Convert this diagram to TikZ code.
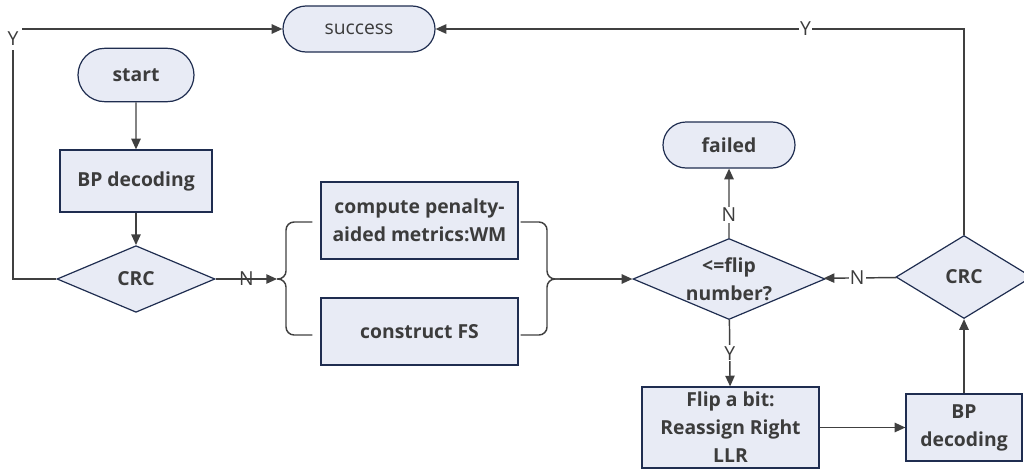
\documentclass[tikz,border=0pt]{standalone}
\usepackage{fontspec}
\setmainfont{Open Sans}
\usetikzlibrary{positioning, shapes, arrows, calc}
\definecolor{fcFill}{HTML}{E8EBF5}
\definecolor{fcEdge}{HTML}{1F2D50}
\definecolor{fcText}{HTML}{3C3C3C}
\definecolor{fcLine}{HTML}{404040}
\usetikzlibrary{arrows.meta}

\begin{document}
\begin{tikzpicture}[
  x=0.75pt, y=-0.75pt,
  box/.style={draw=fcEdge, fill=fcFill, line width=0.9pt, align=center, text=fcText, font=\fontsize{14.5}{21}\selectfont\bfseries, inner sep=0pt},
  term/.style={box, rounded rectangle},
  dia/.style={box, diamond, aspect=2},
  arr/.style={-{Triangle[length=8pt, width=7pt]}, draw=fcLine, line width=1.1pt},
  brace/.style={draw=fcLine, line width=1.1pt, rounded corners=6pt},
  lbl/.style={font=\fontsize{14.5}{16}\selectfont, text=fcText, fill=white, inner sep=1pt}
]
\useasboundingbox (0,0) rectangle (1024,471);

\node[term, font=\fontsize{14.5}{21}\selectfont, minimum width=114pt, minimum height=34.5pt] (success) at (359,29) {success};
\node[term, minimum width=87pt, minimum height=40pt] (start) at (136,75) {start};
\node[box, minimum width=114pt, minimum height=46.5pt] (bpa) at (136,181) {BP decoding};
\node[dia, minimum width=118.5pt, minimum height=50pt] (crca) at (136,279) {CRC};
\node[box, minimum width=147.75pt, minimum height=57.75pt] (wm) at (419.5,220.5) {compute penalty-\\aided metrics:WM};
\node[box, minimum width=147.75pt, minimum height=50.25pt] (fs) at (419.5,331.5) {construct FS};
\node[dia, minimum width=144pt, minimum height=60.75pt] (flip) at (729,279) {};
\node[align=center, text=fcText, font=\fontsize{14.5}{21}\selectfont\bfseries, inner sep=0pt] (fliptxt) at (flip) {\textless=flip\\number?};
\node[term, minimum width=99pt, minimum height=34.5pt] (failed) at (729,145) {failed};
\node[dia, minimum width=102pt, minimum height=62.25pt] (crcb) at (964,277) {CRC};
\node[box, minimum width=132.75pt, minimum height=60.75pt] (bit) at (730.5,427.5) {Flip a bit:\\Reassign Right\\LLR};
\node[box, minimum width=87pt, minimum height=50.25pt] (bpb) at (964,427.5) {BP\\decoding};

\coordinate (ycorner) at (13,29);
\coordinate (lbr) at (277,279);
\coordinate (rbr) at (560,279);

\draw[arr] (start) -- (bpa);
\draw[arr] (bpa) -- (crca);
\draw[arr] (crca.west) -| (ycorner) -- (success.west);
\node[lbl, inner sep=3pt] (ya) at (13,39) {Y};
\draw[arr] (crca.east) -- node[lbl, fill=none] {N} (lbr);

\draw[brace] ($(wm.west)+(-8,1.5)$) -| (286,279) -- (lbr);
\draw[brace] ($(fs.west)+(-8,3.5)$) -| (286,279) -- (lbr);
\draw[brace] ($(wm.east)+(2,1.5)$) -| (547,279) -- (rbr);
\draw[brace] ($(fs.east)+(2,3.5)$) -| (547,279) -- (rbr);

\draw[arr] (rbr) -- (flip.west);
\draw[arr] (flip) -- node[lbl, pos=0.33] {N} (failed);
\draw[arr] (flip) -- node[lbl] {Y} (bit);
\draw[arr] (bit) -- (bpb);
\draw[arr] (bpb) -- (crcb);
\draw[arr] (crcb) -- node[lbl, pos=0.54] {N} (flip);
\draw[arr] (crcb) |- node[lbl, pos=0.65] {Y} (success);
\end{tikzpicture}
\end{document}
